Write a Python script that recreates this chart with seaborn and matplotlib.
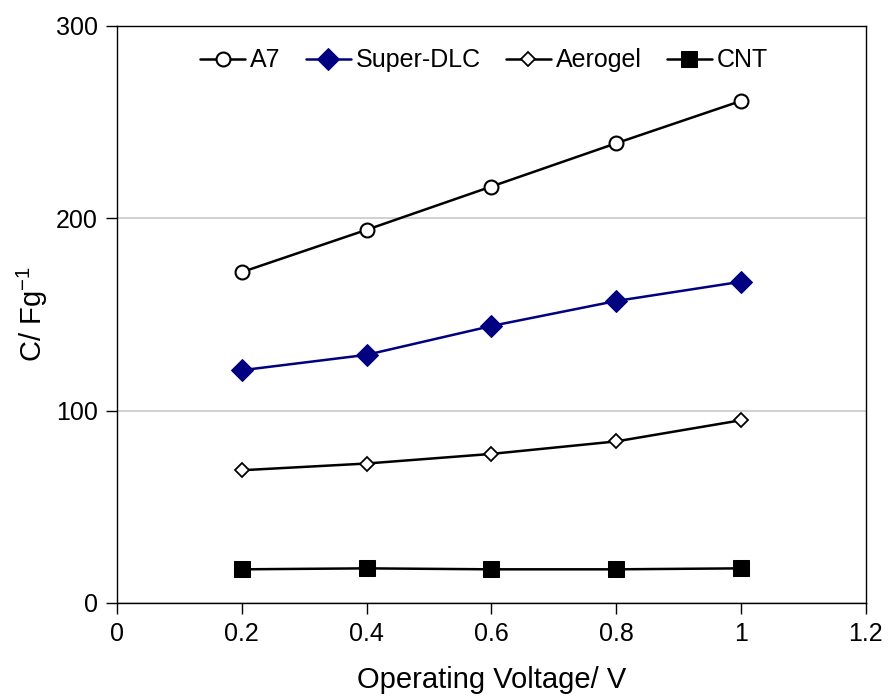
import numpy as np
import pandas as pd
import matplotlib
matplotlib.use("Agg")
import matplotlib.pyplot as plt
import seaborn as sns

voltage = [0.2, 0.4, 0.6, 0.8, 1.0]
a7 = [172, 194, 216.5, 239, 261]
super_dlc = [121, 129, 144, 157, 167]
aerogel = [69, 72.5, 77.5, 84, 95]
cnt = [17.5, 18, 17.5, 17.5, 18]

series_names = ["A7", "Super-DLC", "Aerogel", "CNT"]
series_vals = [a7, super_dlc, aerogel, cnt]

sns.set_style("white")
plt.rcParams['font.family'] = ['Liberation Sans', 'DejaVu Sans']
plt.rcParams['mathtext.default'] = 'regular'
plt.rcParams['text.color'] = 'black'
plt.rcParams['axes.labelcolor'] = 'black'
plt.rcParams['xtick.color'] = 'black'
plt.rcParams['ytick.color'] = 'black'

styles = {
    "A7": dict(color="black", marker="o", markersize=10, markerfacecolor="white",
               markeredgecolor="black", markeredgewidth=1.5),
    "Super-DLC": dict(color="#000080", marker="D", markersize=11, markerfacecolor="#000080",
                      markeredgecolor="#000080"),
    "Aerogel": dict(color="black", marker="D", markersize=7, markerfacecolor="white",
                    markeredgecolor="black", markeredgewidth=1.3),
    "CNT": dict(color="black", marker="s", markersize=11, markerfacecolor="black",
                markeredgecolor="black"),
}

fig = plt.figure(figsize=(8.89, 7.0), dpi=100)
ax = fig.add_axes([0.1316, 0.1386, 0.8424, 0.8244])

for name, vals in zip(series_names, series_vals):
    sns.lineplot(x=voltage, y=vals, ax=ax, label=name, linewidth=1.8, **styles[name])

ax.set_xlim(0, 1.2)
ax.set_ylim(0, 300)
ax.set_xticks([0, 0.2, 0.4, 0.6, 0.8, 1.0, 1.2])
ax.set_xticklabels(["0", "0.2", "0.4", "0.6", "0.8", "1", "1.2"])
ax.set_yticks([0, 100, 200, 300])
ax.yaxis.grid(True, color="#c8c8c8", linewidth=1.2)
ax.set_axisbelow(True)

for side in ["left", "bottom", "top", "right"]:
    ax.spines[side].set_color("black")
    ax.spines[side].set_linewidth(1.0)

ax.tick_params(axis="both", direction="out", length=8, width=1, labelsize=18,
               left=True, bottom=True, pad=6)
ax.set_xlabel("Operating Voltage/ V", fontsize=21, labelpad=14)
ax.set_ylabel("C/ Fg$^{-1}$", fontsize=21, labelpad=4)

ax.legend(loc="upper center", bbox_to_anchor=(0.49, 1.0), ncol=4, frameon=False,
          fontsize=18, handlelength=1.8, handletextpad=0.2, columnspacing=1.0)

fig.savefig("out.png", dpi=100)
